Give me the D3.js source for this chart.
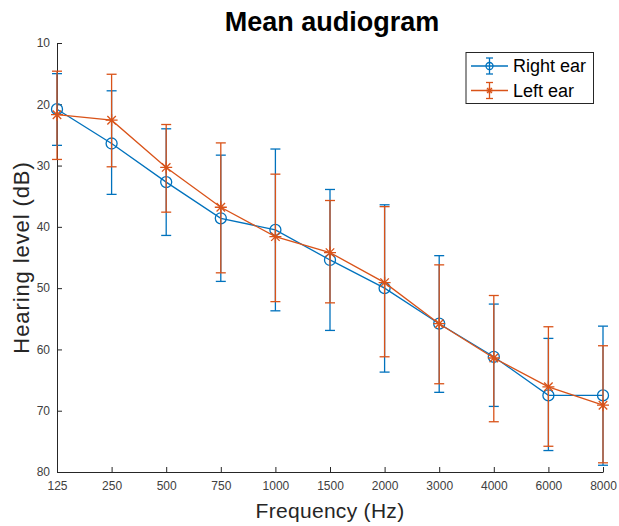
<!DOCTYPE html>
<html>
<head>
<meta charset="utf-8">
<script src="https://cdn.jsdelivr.net/npm/d3@7"></script>
<style>
  body { margin: 0; background: #fff; }
  svg text { font-family: "Liberation Sans", Arial, sans-serif; }
</style>
</head>
<body>
<div id="chart"></div>
<script>
const freqs = ["125", "250", "500", "750", "1000", "1500", "2000", "3000", "4000", "6000", "8000"];
const yTicks = [10, 20, 30, 40, 50, 60, 70, 80];

// Right ear: mean with lower / upper end of the error bar (dB)
const rightMean = [20.8, 26.4, 32.7, 38.6, 40.5, 45.4, 50.0, 55.8, 61.2, 67.5, 67.5];
const rightTop = [15.0, 17.8, 24.0, 28.3, 27.3, 33.9, 36.4, 44.7, 52.6, 58.2, 56.2];
const rightBottom = [26.7, 34.7, 41.4, 48.9, 53.7, 56.9, 63.7, 67.0, 69.3, 76.5, 78.9];

// Left ear
const leftMean = [21.7, 22.6, 30.3, 36.8, 41.6, 44.2, 49.1, 55.8, 61.4, 66.1, 69.1];
const leftTop = [14.6, 15.1, 23.3, 26.3, 31.4, 35.7, 36.7, 46.2, 51.2, 56.3, 59.4];
const leftBottom = [29.0, 30.2, 37.6, 47.5, 52.2, 52.4, 61.2, 65.6, 71.8, 75.8, 78.5];

const width = 619;
const height = 526;
const margin = { left: 57, right: 16, top: 43, bottom: 54 };

const svg = d3.select("#chart")
  .append("svg")
  .attr("width", width)
  .attr("height", height);

const x = d3.scalePoint()
  .domain(freqs)
  .range([margin.left, width - margin.right]);

const y = d3.scaleLinear()
  .domain([10, 80])
  .range([margin.top, height - margin.bottom]);

const axisColor = "#262626";

// axes (ticks point inward, no box)
const xAxis = svg.append("g")
  .attr("transform", `translate(0, ${height - margin.bottom})`)
  .call(d3.axisBottom(x).tickSizeInner(-5).tickSizeOuter(0).tickPadding(9));

const yAxis = svg.append("g")
  .attr("transform", `translate(${margin.left}, 0)`)
  .call(d3.axisLeft(y).tickValues(yTicks).tickSizeInner(-5).tickSizeOuter(0).tickPadding(7));

[xAxis, yAxis].forEach(g => {
  g.select(".domain").attr("stroke", axisColor).attr("stroke-width", 1);
  g.selectAll(".tick line").attr("stroke", axisColor);
  g.selectAll(".tick text")
    .attr("fill", "#404040")
    .style("font-size", "12px")
    .style("font-family", "'Liberation Sans', Arial, sans-serif");
});

// titles
svg.append("text")
  .attr("x", (margin.left + width - margin.right) / 2 + 2)
  .attr("y", 31)
  .attr("text-anchor", "middle")
  .style("font-size", "27px")
  .style("font-weight", "bold")
  .attr("fill", "#000")
  .text("Mean audiogram");

svg.append("text")
  .attr("x", (margin.left + width - margin.right) / 2)
  .attr("y", 518)
  .attr("text-anchor", "middle")
  .style("font-size", "21px")
  .style("letter-spacing", "0.3px")
  .attr("fill", "#262626")
  .text("Frequency (Hz)");

svg.append("text")
  .attr("transform", `translate(29, ${(y(10) + y(80)) / 2}) rotate(-90)`)
  .attr("text-anchor", "middle")
  .style("font-size", "22px")
  .style("letter-spacing", "0.9px")
  .attr("fill", "#262626")
  .text("Hearing level (dB)");

const series = [
  { name: "Right ear", color: "#0072BD", marker: "circle", mean: rightMean, top: rightTop, bottom: rightBottom },
  { name: "Left ear", color: "#D95319", marker: "star", mean: leftMean, top: leftTop, bottom: leftBottom }
];

function starPath(r) {
  let d = "";
  [0, 45, 90, 135].forEach(a => {
    const t = a * Math.PI / 180;
    const dx = r * Math.cos(t), dy = r * Math.sin(t);
    d += `M${-dx},${-dy}L${dx},${dy}`;
  });
  return d;
}

const capW = 5;

series.forEach(s => {
  const g = svg.append("g");
  const pts = freqs.map((f, i) => ({ f, m: s.mean[i], lo: s.top[i], hi: s.bottom[i] }));

  // error bars
  const eb = g.selectAll(".eb").data(pts).join("g")
    .attr("stroke", s.color)
    .attr("stroke-width", 1.3)
    .attr("fill", "none");
  eb.append("line")
    .attr("x1", d => x(d.f)).attr("x2", d => x(d.f))
    .attr("y1", d => y(d.lo)).attr("y2", d => y(d.hi));
  eb.append("line")
    .attr("x1", d => x(d.f) - capW).attr("x2", d => x(d.f) + capW)
    .attr("y1", d => y(d.lo)).attr("y2", d => y(d.lo));
  eb.append("line")
    .attr("x1", d => x(d.f) - capW).attr("x2", d => x(d.f) + capW)
    .attr("y1", d => y(d.hi)).attr("y2", d => y(d.hi));

  // mean line
  g.append("path")
    .datum(pts)
    .attr("fill", "none")
    .attr("stroke", s.color)
    .attr("stroke-width", 1.3)
    .attr("d", d3.line().x(d => x(d.f)).y(d => y(d.m)));

  // markers
  if (s.marker === "circle") {
    g.selectAll(".mk").data(pts).join("circle")
      .attr("cx", d => x(d.f)).attr("cy", d => y(d.m))
      .attr("r", 5.5)
      .attr("fill", "none")
      .attr("stroke", s.color)
      .attr("stroke-width", 1.3);
  } else {
    g.selectAll(".mk").data(pts).join("path")
      .attr("transform", d => `translate(${x(d.f)}, ${y(d.m)})`)
      .attr("d", starPath(6))
      .attr("fill", "none")
      .attr("stroke", s.color)
      .attr("stroke-width", 1.3);
  }
});

// legend
const legend = svg.append("g");
legend.append("rect")
  .attr("x", 466).attr("y", 52.5)
  .attr("width", 127.5).attr("height", 51)
  .attr("fill", "#fff")
  .attr("stroke", axisColor)
  .attr("stroke-width", 1);

series.forEach((s, i) => {
  const ly = 66 + i * 24.5;
  const lg = legend.append("g")
    .attr("stroke", s.color)
    .attr("stroke-width", 1.3)
    .attr("fill", "none");
  lg.append("line").attr("x1", 471).attr("x2", 508).attr("y1", ly).attr("y2", ly);
  lg.append("line").attr("x1", 489.5).attr("x2", 489.5).attr("y1", ly - 8).attr("y2", ly + 8);
  lg.append("line").attr("x1", 486).attr("x2", 493).attr("y1", ly - 8).attr("y2", ly - 8);
  lg.append("line").attr("x1", 486).attr("x2", 493).attr("y1", ly + 8).attr("y2", ly + 8);
  if (s.marker === "circle") {
    lg.append("circle").attr("cx", 489.5).attr("cy", ly).attr("r", 3.5);
  } else {
    lg.append("path").attr("transform", `translate(489.5, ${ly})`).attr("d", starPath(3.5));
  }
  legend.append("text")
    .attr("x", 513)
    .attr("y", ly)
    .attr("dy", "0.35em")
    .style("font-size", "18px")
    .attr("fill", "#000")
    .text(s.name);
});
</script>
</body>
</html>
